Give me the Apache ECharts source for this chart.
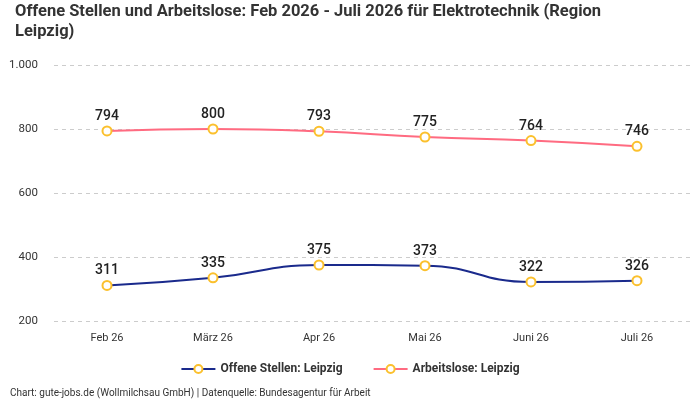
<!DOCTYPE html>
<html><head><meta charset="utf-8">
<script src="https://cdn.jsdelivr.net/npm/echarts@6/dist/echarts.min.js"></script>
<style>html,body{margin:0;padding:0;background:#fff}#c{width:700px;height:400px}</style>
</head><body><div id="c"></div>
<script>
const categories = ['Feb 26','März 26','Apr 26','Mai 26','Juni 26','Juli 26'];
const offeneStellen = [311,335,375,373,322,326];
const arbeitslose = [794,800,793,775,764,746];
const yTicks = [200,400,600,800,1000];
const F = 'Roboto, sans-serif';
const chart = echarts.init(document.getElementById('c'));
const fmt = v => v >= 1000 ? (v/1000).toFixed(0) + '.' + String(v%1000).padStart(3,'0') : String(v);
function mk(name, data, color){
  return {name, type:'line', data, smooth:true, symbol:'circle', symbolSize:9,
    lineStyle:{color, width:2}, itemStyle:{color:'#fff', borderColor:'#FBC02D', borderWidth:2},
    label:{show:true, position:'top', distance:2, fontFamily:F, fontSize:14, fontWeight:500, color:'#222'},
    emphasis:{disabled:true}};
}
chart.setOption({
  animation:false,
  title:{text:'Offene Stellen und Arbeitslose: Feb 2026 - Juli 2026 für Elektrotechnik (Region\nLeipzig)',
    left:10, top:-3, textStyle:{fontFamily:F, fontSize:16.5, fontWeight:'bold', color:'#333', lineHeight:20}},
  grid:{left:54, right:10, top:65, bottom:79},
  legend:{bottom:20, itemGap:30, itemWidth:34, itemHeight:10, textStyle:{fontFamily:F, fontSize:12, fontWeight:'bold', color:'#333'},
    data:[{name:'Offene Stellen: Leipzig', itemStyle:{color:'#fff', borderColor:'#FBC02D', borderWidth:2}, lineStyle:{color:'#1a2a8c'}},
          {name:'Arbeitslose: Leipzig', itemStyle:{color:'#fff', borderColor:'#FBC02D', borderWidth:2}, lineStyle:{color:'#ff6b81'}}]},
  xAxis:{type:'category', data:categories, boundaryGap:true, axisLine:{show:false}, axisTick:{show:false},
    axisLabel:{fontFamily:F, fontSize:11, color:'#333', margin:12}},
  yAxis:{type:'value', min:yTicks[0], max:yTicks[yTicks.length-1], interval:200,
    axisLabel:{fontFamily:F, fontSize:11.5, color:'#333', margin:16, formatter:fmt},
    splitLine:{lineStyle:{type:[4,4], color:'#ccc'}}},
  series:[mk('Offene Stellen: Leipzig', offeneStellen, '#1a2a8c'), mk('Arbeitslose: Leipzig', arbeitslose, '#ff6b81')],
  graphic:[{type:'text', left:10, top:388, style:{text:'Chart: gute-jobs.de (Wollmilchsau GmbH) | Datenquelle: Bundesagentur für Arbeit', font:'10px '+F, fill:'#333'}}]
});
</script></body></html>
